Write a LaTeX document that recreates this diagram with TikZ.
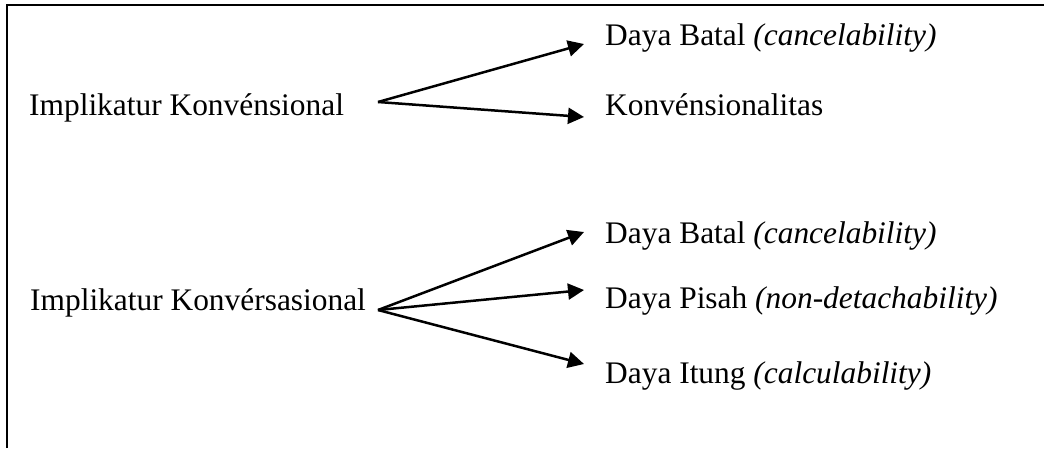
\documentclass[tikz,border=0pt]{standalone}
\usepackage{fontspec}
\setmainfont{Liberation Serif}
\usetikzlibrary{arrows.meta}

\begin{document}
\begin{tikzpicture}[x=1pt,y=-1pt,
  txt/.style={anchor=base west, inner sep=0pt, font=\fontsize{31.4}{36}\selectfont},
  fork/.style={-{Triangle[length=16pt,width=16pt]}, line width=2.5pt}]
\useasboundingbox (0,0) rectangle (1044,448);
% Frame
\draw[line width=2.5pt] (7,448) -- (7,5) -- (1044,5);

% Conventional implicature
\node[txt] (konv) at (29,115) {Implikatur Konvénsional};
\node[txt] (konvBatal) at (605,45) {Daya Batal \textit{(cancelability)}};
\node[txt] (konvLitas) at (605,115) {Konvénsionalitas};
\coordinate (konvFork) at (378,102);
\coordinate (konvTipA) at (584,44);
\coordinate (konvTipB) at (584,117);
\draw[fork] (konvFork) -- (konvTipA);
\draw[fork] (konvFork) -- (konvTipB);

% Conversational implicature
\node[txt] (konver) at (30,310) {Implikatur Konvérsasional};
\node[txt] (konverBatal) at (605,243) {Daya Batal \textit{(cancelability)}};
\node[txt] (konverPisah) at (605,308) {Daya Pisah \textit{(non-detachability)}};
\node[txt] (konverItung) at (605,383) {Daya Itung \textit{(calculability)}};
\coordinate (konverFork) at (378,310);
\coordinate (konverTipA) at (584,232);
\coordinate (konverTipB) at (584,290);
\coordinate (konverTipC) at (584,364);
\draw[fork] (konverFork) -- (konverTipA);
\draw[fork] (konverFork) -- (konverTipB);
\draw[fork] (konverFork) -- (konverTipC);

\end{tikzpicture}
\end{document}
